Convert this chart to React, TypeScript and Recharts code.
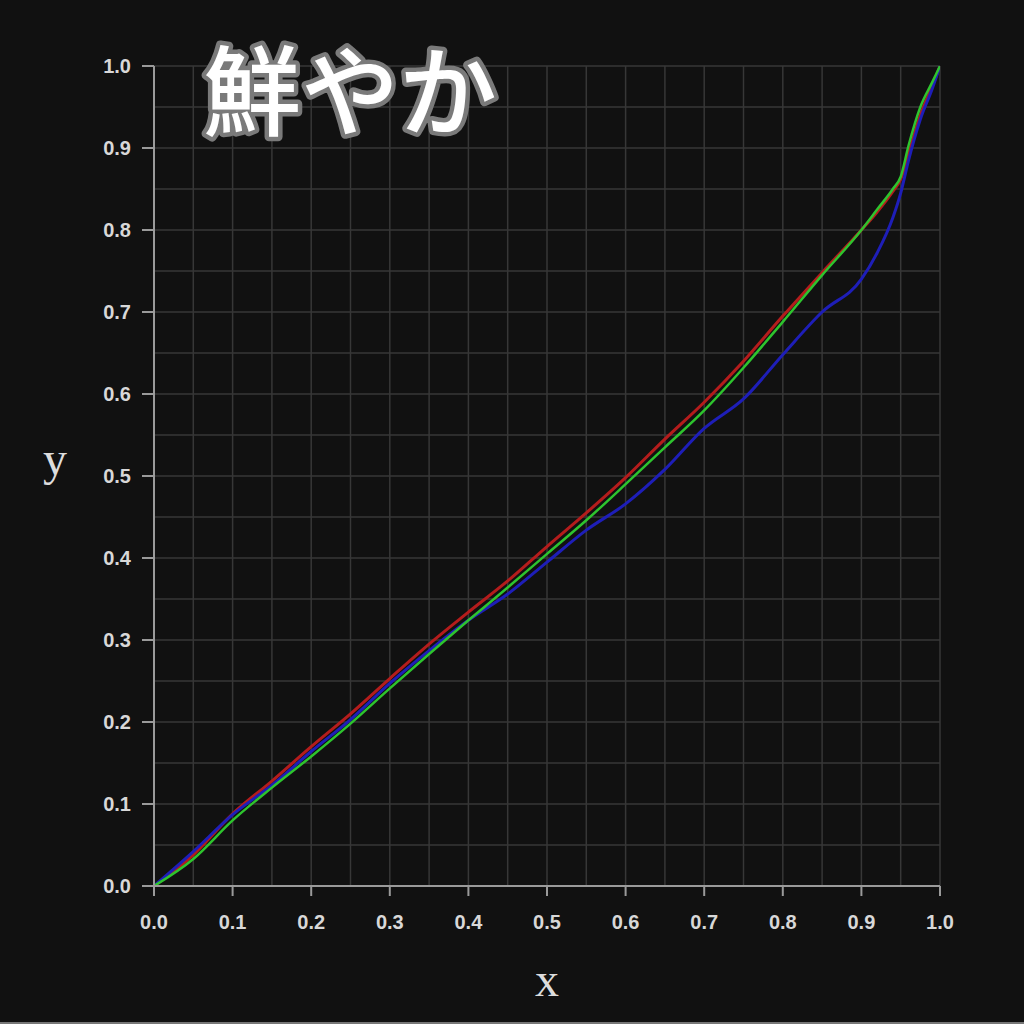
import React from 'react';
import { LineChart, Line, XAxis, YAxis, ReferenceLine } from 'recharts';

const xValues = [0, 0.05, 0.1, 0.15, 0.2, 0.25, 0.3, 0.35, 0.4, 0.45, 0.5, 0.55, 0.6, 0.65, 0.7, 0.75, 0.8, 0.85, 0.9, 0.92, 0.94, 0.95, 0.96, 0.975, 0.99, 1.0];
const redValues = [0, 0.038, 0.088, 0.128, 0.17, 0.21, 0.253, 0.295, 0.334, 0.372, 0.414, 0.455, 0.498, 0.545, 0.59, 0.64, 0.695, 0.748, 0.8, 0.822, 0.847, 0.862, 0.893, 0.94, 0.975, 1.0];
const greenValues = [0, 0.033, 0.08, 0.12, 0.158, 0.198, 0.241, 0.283, 0.324, 0.364, 0.405, 0.446, 0.49, 0.535, 0.58, 0.632, 0.688, 0.745, 0.8, 0.825, 0.85, 0.865, 0.903, 0.95, 0.98, 1.0];
const blueValues = [0, 0.042, 0.087, 0.123, 0.164, 0.203, 0.247, 0.287, 0.324, 0.356, 0.395, 0.434, 0.466, 0.508, 0.558, 0.594, 0.648, 0.7, 0.74, 0.772, 0.815, 0.845, 0.885, 0.935, 0.972, 1.0];

const majorTicks = [0, 0.1, 0.2, 0.3, 0.4, 0.5, 0.6, 0.7, 0.8, 0.9, 1.0];
const gridValues = [0, 0.05, 0.1, 0.15, 0.2, 0.25, 0.3, 0.35, 0.4, 0.45, 0.5, 0.55, 0.6, 0.65, 0.7, 0.75, 0.8, 0.85, 0.9, 0.95, 1.0];

const titleText = '鮮やか';
const xLabel = 'x';
const yLabel = 'y';

const data = xValues.map((x, i) => ({ x, red: redValues[i], green: greenValues[i], blue: blueValues[i] }));

const tickStyle = { fill: '#d8d8d8', fontSize: 20, fontWeight: 700, fontFamily: '"Liberation Sans", Arial, sans-serif' };
const fmt = (v: number) => v.toFixed(1);

export default function App() {
  return (
    <div style={{ position: 'fixed', left: 0, top: 0, width: 1024, height: 1024, background: '#111111', borderBottom: '2px solid #777', boxSizing: 'border-box' }}>
      <LineChart width={1024} height={1022} data={data} margin={{ top: 66, right: 84, bottom: 96, left: 94 }}>
        {gridValues.map((v) => (
          <ReferenceLine key={'gx' + v} x={v} stroke="#373737" strokeWidth={1.5} />
        ))}
        {gridValues.map((v) => (
          <ReferenceLine key={'gy' + v} y={v} stroke="#373737" strokeWidth={1.5} />
        ))}
        <XAxis
          dataKey="x"
          type="number"
          domain={[0, 1]}
          ticks={majorTicks}
          tickFormatter={fmt}
          height={40}
          stroke="#9a9a9a"
          strokeWidth={2}
          tickSize={10}
          tickMargin={19}
          tick={tickStyle}
          allowDataOverflow
        />
        <YAxis
          type="number"
          domain={[0, 1]}
          ticks={majorTicks}
          tickFormatter={fmt}
          width={60}
          stroke="#9a9a9a"
          strokeWidth={2}
          tickSize={12}
          tickMargin={11}
          tick={tickStyle}
          allowDataOverflow
        />
        <Line type="monotone" dataKey="red" stroke="#b41c1c" strokeWidth={3} dot={false} isAnimationActive={false} />
        <Line type="monotone" dataKey="blue" stroke="#1e1eb8" strokeWidth={3} dot={false} isAnimationActive={false} />
        <Line type="monotone" dataKey="green" stroke="#2ec42e" strokeWidth={2.5} dot={false} isAnimationActive={false} />
      </LineChart>
      <svg width={1024} height={1024} style={{ position: 'absolute', left: 0, top: 0, pointerEvents: 'none' }}>
        <text
          x={203}
          y={128}
          fontSize={98}
          fontWeight={500}
          fontFamily='"Noto Sans CJK JP", sans-serif'
          fill="#ffffff"
          stroke="#7a7a7a"
          strokeWidth={9}
          strokeLinejoin="round"
          paintOrder="stroke"
        >
          {titleText}
        </text>
        <text x={547} y={996} fontSize={48} fontFamily='"Liberation Serif", "Times New Roman", serif' fill="#dddddd" textAnchor="middle">
          {xLabel}
        </text>
        <text x={55} y={475} fontSize={48} fontFamily='"Liberation Serif", "Times New Roman", serif' fill="#dddddd" textAnchor="middle">
          {yLabel}
        </text>
      </svg>
    </div>
  );
}
